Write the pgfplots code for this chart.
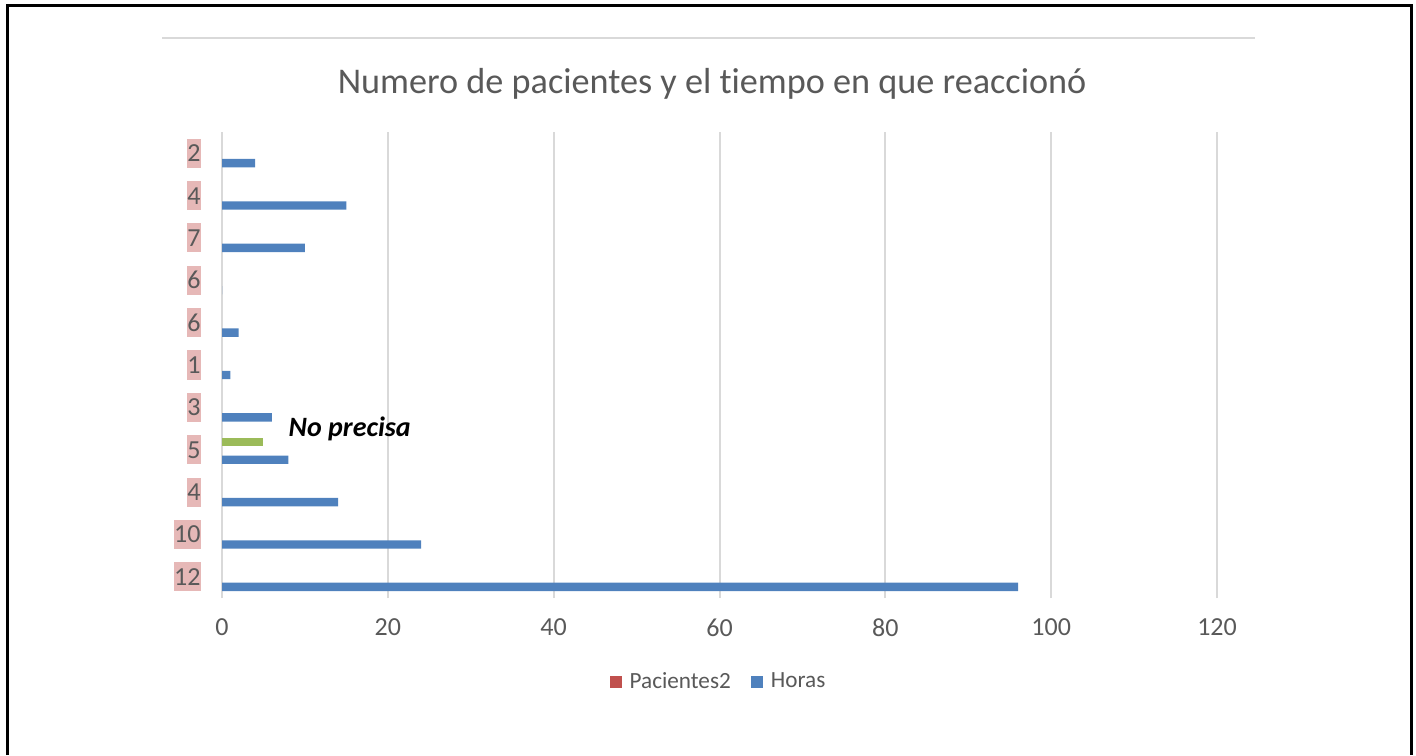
\documentclass[border=0pt]{standalone}
\usepackage{pgfplots}
\pgfplotsset{compat=1.18}
\usepackage{fontspec}
\setmainfont{Carlito}[Ligatures=NoCommon]
\definecolor{barblue}{HTML}{4F81BD}
\definecolor{bargreen}{HTML}{9BBB59}
\definecolor{barred}{HTML}{C0504D}
\definecolor{txtgray}{HTML}{595959}
\definecolor{gridgray}{HTML}{D9D9D9}
\definecolor{pinkbg}{HTML}{E6B8B7}
\begin{document}
\begin{tikzpicture}
\useasboundingbox (0,0) rectangle (708pt,377.5pt);
\draw[line width=1.5pt] (3.5pt,0) -- (3.5pt,374.5pt) -- (705.5pt,374.5pt) -- (705.5pt,0);
\draw[gridgray, line width=0.6pt] (81pt,358.5pt) -- (627.5pt,358.5pt);
\node[text=txtgray, font=\fontsize{18.1}{21}\selectfont] at (356pt,335.5pt) {Numero de pacientes y el t\kern0pt iempo en que reaccionó};
\begin{axis}[
  at={(111pt,78.5pt)}, anchor=south west,
  scale only axis, width=497.5pt, height=233pt,
  xbar, bar width=4.2pt,
  xmin=0, xmax=120, ymin=-0.5, ymax=10.5,
  xtick={0,20,40,60,80,100,120},
  ytick={0,1,2,3,4,5,6,7,8,9,10},
  yticklabels={12,10,4,5,3,1,6,6,7,4,2},
  xmajorgrids, grid style={gridgray, line width=1pt},
  axis line style={draw=none},
  major tick length=0pt,
  /pgf/number format/assume math mode=true,
  tick label style={text=txtgray, font=\fontsize{13}{15}\selectfont},
  xticklabel style={yshift=-7pt},
  yticklabel style={fill=pinkbg, inner xsep=0pt, inner ysep=0pt, text height=11.5pt, text depth=3pt, xshift=-10.5pt},
  legend style={at={(0.5,-0.1803)}, anchor=center, draw=none, legend columns=2,
    font=\fontsize{11.6}{14}\selectfont, text=txtgray,
    /tikz/every odd column/.append style={column sep=2pt},
    /tikz/every even column/.append style={column sep=8pt}},
  legend image code/.code={\fill[#1] (0pt,-3pt) rectangle (6pt,3pt);},
]
\addlegendimage{fill=barred, draw=none}
\addlegendentry{Pacientes2}
\addplot[fill=barblue, draw=none, bar shift=-5pt] coordinates {
 (96,0) (24,1) (14,2) (8,3) (6,4) (1,5) (2,6) (0,7) (10,8) (15,9) (4,10)};
\addlegendentry{Horas}
\addplot[fill=bargreen, draw=none, bar shift=4pt, forget plot] coordinates {(5,3)};
\node[font=\fontsize{14}{16}\selectfont\bfseries\itshape, text=black] at (axis cs:15.4,3.5) {No precisa};
\end{axis}
\end{tikzpicture}
\end{document}
